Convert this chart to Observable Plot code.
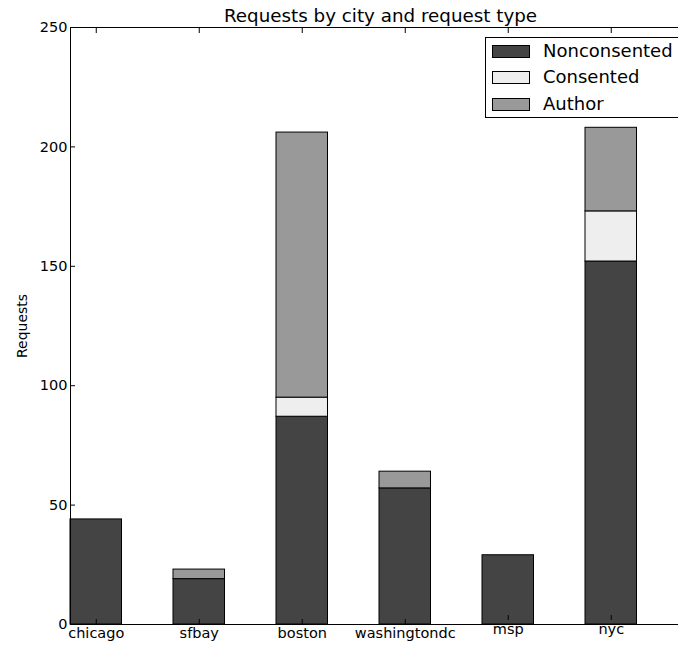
<!DOCTYPE html>
<html>
<head>
<meta charset="utf-8">
<script src="https://cdn.jsdelivr.net/npm/d3@7"></script>
<script src="https://cdn.jsdelivr.net/npm/@observablehq/plot@0.6"></script>
<style>
  html, body { margin: 0; padding: 0; background: #fff; overflow: hidden; }
  body { width: 678px; height: 646px; position: relative; font-family: "DejaVu Sans", sans-serif; color: #000; }
  #legend { position: absolute; left: 485px; top: 37px; width: 240px; height: 79px; border: 1px solid #000; background: #fff; }
  .row { position: absolute; left: 6px; height: 13px; }
  .sw { position: absolute; left: 0; top: 0; width: 38px; height: 13px; border: 1px solid #000; box-sizing: border-box; }
  .lab { position: absolute; left: 51px; top: -5px; font-size: 18px; line-height: 22px; white-space: nowrap; }
</style>
</head>
<body>
<div id="chart"></div>
<div id="legend"></div>
<script>
const title = "Requests by city and request type";
const yLabel = "Requests";
const cities = ["chicago", "sfbay", "boston", "washingtondc", "msp", "nyc"];
const types = ["Nonconsented", "Consented", "Author"];
const colors = ["#444444", "#eeeeee", "#999999"];
const nonconsented = [44, 19, 87, 57, 29, 152];
const consented = [0, 0, 8, 0, 0, 21];
const author = [0, 4, 111, 7, 0, 35];
const yTicks = [0, 50, 100, 150, 200, 250];

const series = [nonconsented, consented, author];
const data = [];
types.forEach((t, k) => cities.forEach((c, i) => data.push({city: c, i, type: t, value: series[k][i]})));

const tickPos = cities.map((c, i) => i + 0.25);
const fmt = d => cities[Math.round(d - 0.25)];
// labels without ascenders sit higher (matplotlib top alignment on ink box)
const lowLabels = tickPos.filter(d => ["msp", "nyc"].includes(fmt(d)));
const highLabels = tickPos.filter(d => !["msp", "nyc"].includes(fmt(d)));

const chart = Plot.plot({
  width: 678,
  height: 646,
  marginLeft: 70,
  marginRight: 0,
  marginTop: 27,
  marginBottom: 22,
  style: {fontFamily: "DejaVu Sans, sans-serif", fontSize: "14px", color: "#000", background: "#fff"},
  x: {type: "linear", domain: [0, 608 / 103]},
  y: {domain: [0, 250]},
  color: {domain: types, range: colors},
  marks: [
    Plot.rectY(data, {x1: d => d.i, x2: d => d.i + 0.5, y: "value", fill: "type", stroke: "#000", strokeWidth: 1}),
    Plot.ruleX([0], {stroke: "#000"}),
    Plot.ruleY([0, 250], {stroke: "#000"}),
    Plot.axisY(yTicks, {tickSize: -5, tickPadding: 8, fontSize: 14.5, label: null}),
    Plot.axisX(highLabels, {tickSize: -5, tickPadding: 8, tickFormat: fmt, fontSize: 14.5, label: null}),
    Plot.axisX(lowLabels, {tickSize: -5, tickPadding: 8, tickFormat: fmt, fontSize: 14.5, dy: -4, label: null}),
    Plot.axisX(tickPos, {anchor: "top", tickSize: -5, tickFormat: () => "", label: null}),
    Plot.text([title], {frameAnchor: "top", dx: 6, dy: -6, lineAnchor: "bottom", fontSize: 18.3}),
    Plot.text([yLabel], {frameAnchor: "left", textAnchor: "middle", dx: -48, rotate: -90, fontSize: 14})
  ]
});
document.getElementById("chart").append(chart);

const legend = document.getElementById("legend");
const rowTops = [7, 33, 60];
types.forEach((t, k) => {
  const row = document.createElement("div");
  row.className = "row";
  row.style.top = rowTops[k] + "px";
  const sw = document.createElement("div");
  sw.className = "sw";
  sw.style.background = colors[k];
  const lab = document.createElement("div");
  lab.className = "lab";
  lab.textContent = t;
  row.append(sw, lab);
  legend.append(row);
});
</script>
</body>
</html>
